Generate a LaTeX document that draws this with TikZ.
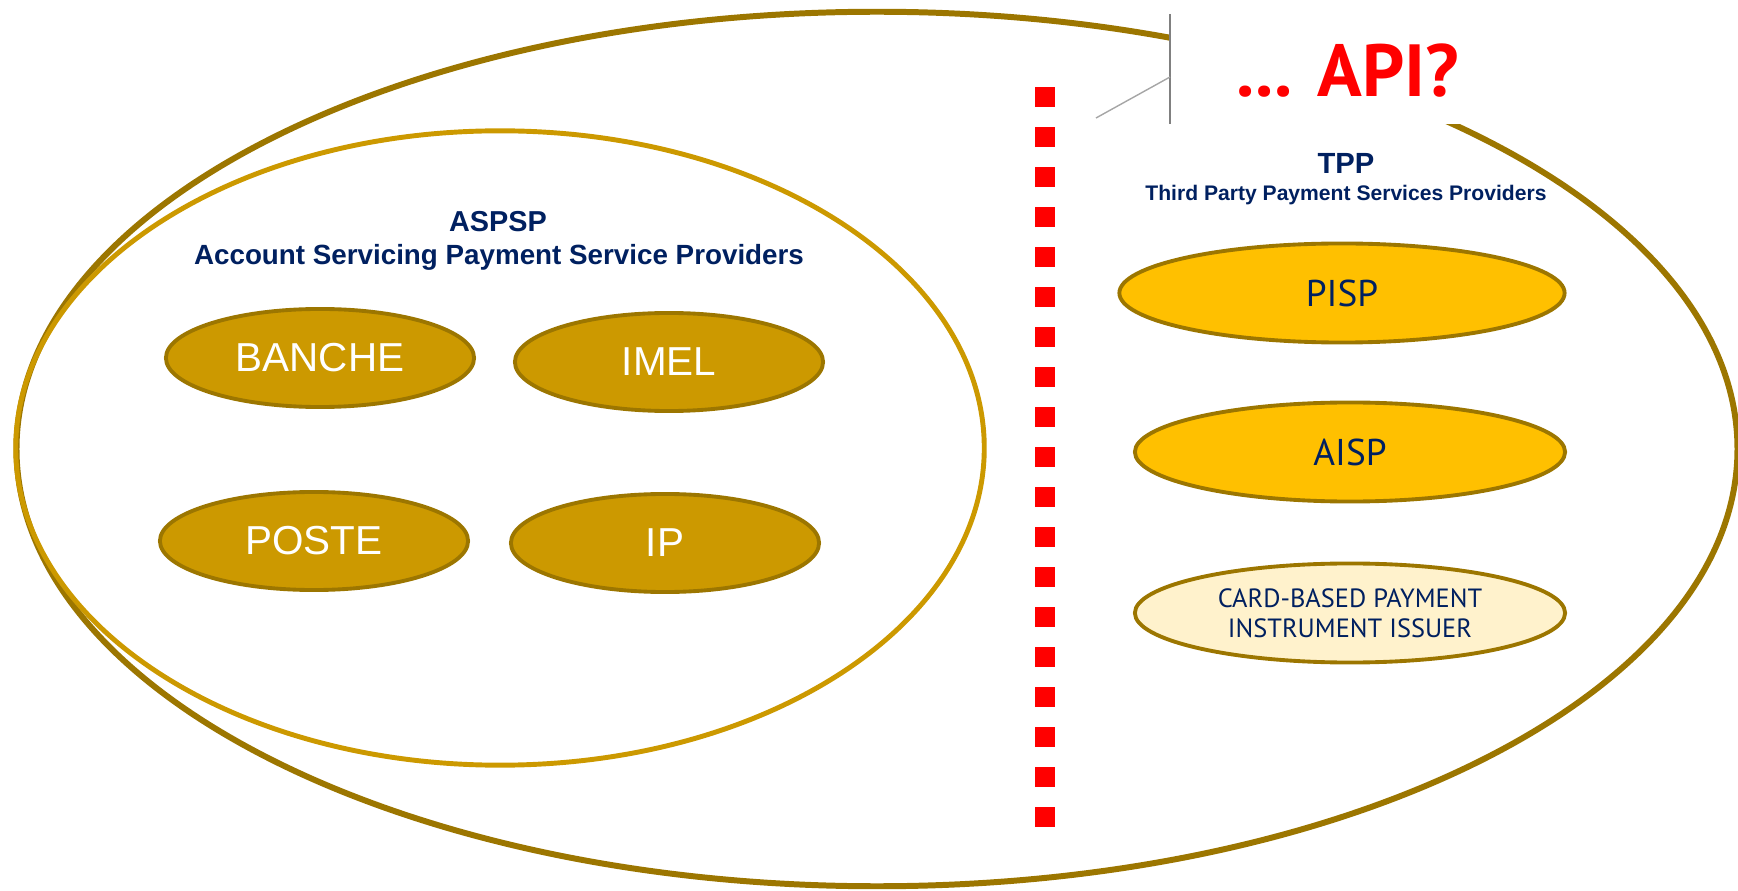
\documentclass[tikz,border=0pt]{standalone}
\usepackage{fontspec}
\setmainfont{Liberation Sans}
\newfontfamily\ptsans{PT Sans}
\usetikzlibrary{shapes.geometric}

\definecolor{darkgold}{HTML}{9C7600}
\definecolor{gold}{HTML}{CC9900}
\definecolor{amber}{HTML}{FFC000}
\definecolor{cream}{HTML}{FFF2CC}
\definecolor{navy}{HTML}{002060}

\tikzset{
  provider/.style={ellipse, draw=darkgold, line width=1.1pt, inner sep=0pt},
  aspspnode/.style={provider, fill=gold, minimum width=3.08cm, minimum height=0.98cm,
    text=white, font=\fontsize{11.5}{12}\selectfont},
  tppnode/.style={provider, fill=amber, minimum width=4.3cm, minimum height=0.99cm,
    text=navy, font=\ptsans\fontsize{10.6}{11}\selectfont},
  title/.style={text=navy, inner sep=0pt, anchor=base, font=\bfseries},
}

\begin{document}
\begin{tikzpicture}[x=0.01cm, y=-0.01cm]
  \useasboundingbox (0,0) rectangle (1738,891);

  % the two rings
  \draw[darkgold, line width=1.7pt] (877,449) ellipse [x radius=8.6cm, y radius=4.37cm];
  \draw[gold, line width=1.4pt] (500,448) ellipse [x radius=4.84cm, y radius=3.17cm];

  % cut-out behind the question
  \fill[white] (1170,0) rectangle (1738,124);
  \draw[gray, line width=0.4pt] (1170,14) -- (1170,124);
  \draw[gray!70, line width=0.4pt] (1096,118) -- (1170,77);
  \node[text=red, anchor=base, inner sep=0pt, font=\ptsans\bfseries\fontsize{21}{23}\selectfont]
    (api) at (1348,97) {... API?};

  % border between the two groups
  \foreach \i in {0,...,18}
    \fill[red] (1035,87+40*\i) rectangle ++(20,20);

  % ASPSP side
  \node[title, font=\bfseries\fontsize{8.2}{9}\selectfont] (aspsp) at (498,232) {ASPSP};
  \node[title, font=\bfseries\fontsize{7.9}{9}\selectfont] (aspspfull) at (499,265)
    {Account Servicing Payment Service Providers};

  \node[aspspnode] (banche) at (320,358) {BANCHE};
  \node[aspspnode] (imel) at (669,362) {IMEL};
  \node[aspspnode] (poste) at (314,541) {POSTE};
  \node[aspspnode] (ip) at (665,543) {IP};

  % TPP side
  \node[title, font=\bfseries\fontsize{8.3}{9}\selectfont] (tpp) at (1346,174) {TPP};
  \node[title, font=\bfseries\fontsize{6}{7}\selectfont] (tppfull) at (1346,201)
    {Third Party Payment Services Providers};

  \node[tppnode, minimum width=4.45cm] (pisp) at (1342,293) {PISP};
  \node[tppnode] (aisp) at (1350,452) {AISP};
  \node[tppnode, fill=cream, align=center, font=\ptsans\fontsize{7.5}{8.5}\selectfont]
    (card) at (1350,613) {CARD-BASED PAYMENT\\INSTRUMENT ISSUER};
\end{tikzpicture}
\end{document}
